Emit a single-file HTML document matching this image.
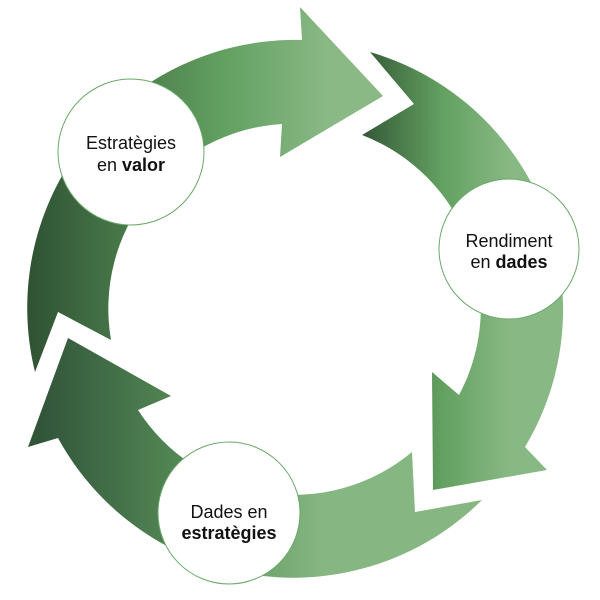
<!DOCTYPE html>
<html><head><meta charset="utf-8"><style>
html,body{margin:0;padding:0;background:#fff;width:600px;height:600px;overflow:hidden}
svg{display:block}
text{font-family:"Liberation Sans",sans-serif;font-size:18px;fill:#111}
</style></head><body>
<svg width="600" height="600" viewBox="0 0 600 600">
<defs>
<linearGradient id="g1" gradientUnits="userSpaceOnUse" x1="28" y1="0" x2="383" y2="0">
<stop offset="0" stop-color="#2f5233"/><stop offset="0.55" stop-color="#62a060"/><stop offset="0.85" stop-color="#8ab986"/></linearGradient>
<linearGradient id="g2" gradientUnits="userSpaceOnUse" x1="362" y1="0" x2="560" y2="0">
<stop offset="0" stop-color="#345837"/><stop offset="0.4" stop-color="#62a060"/><stop offset="0.75" stop-color="#88b984"/></linearGradient>
<linearGradient id="g3" gradientUnits="userSpaceOnUse" x1="28" y1="0" x2="482" y2="0">
<stop offset="0.03" stop-color="#32553a"/><stop offset="0.4" stop-color="#5a935a"/><stop offset="0.65" stop-color="#86b782"/></linearGradient>
</defs>
<path fill="url(#g1)" d="M35,372 A268,268 0 0 1 302,40 L300,7 L383,96 L280,157 L282,124 A185,185 0 0 0 111,340 L58,312 Z"/>
<path fill="url(#g2)" d="M370,52 A268,268 0 0 1 525,447 L547,470 L433,490 L432,372 L459,395 A185,185 0 0 0 362,135 L414,104 Z"/>
<path fill="url(#g3)" d="M482,500 A268,268 0 0 1 58,438 L28,447 L68,338 L171,396 L138,410 A185,185 0 0 0 412,452 L415,512 Z"/>
<circle cx="131" cy="152" r="73" fill="#fff" stroke="#6aa86a" stroke-width="1"/>
<circle cx="509" cy="249" r="70" fill="#fff" stroke="#6aa86a" stroke-width="1"/>
<circle cx="229" cy="513" r="71" fill="#fff" stroke="#6aa86a" stroke-width="1"/>
<text x="131" y="149" text-anchor="middle">Estratègies</text>
<text x="131" y="171" text-anchor="middle">en <tspan font-weight="bold">valor</tspan></text>
<text x="509" y="247" text-anchor="middle">Rendiment</text>
<text x="509" y="268" text-anchor="middle">en <tspan font-weight="bold">dades</tspan></text>
<text x="229" y="518" text-anchor="middle">Dades en</text>
<text x="229" y="539" text-anchor="middle" font-weight="bold">estratègies</text>
</svg>
</body></html>
